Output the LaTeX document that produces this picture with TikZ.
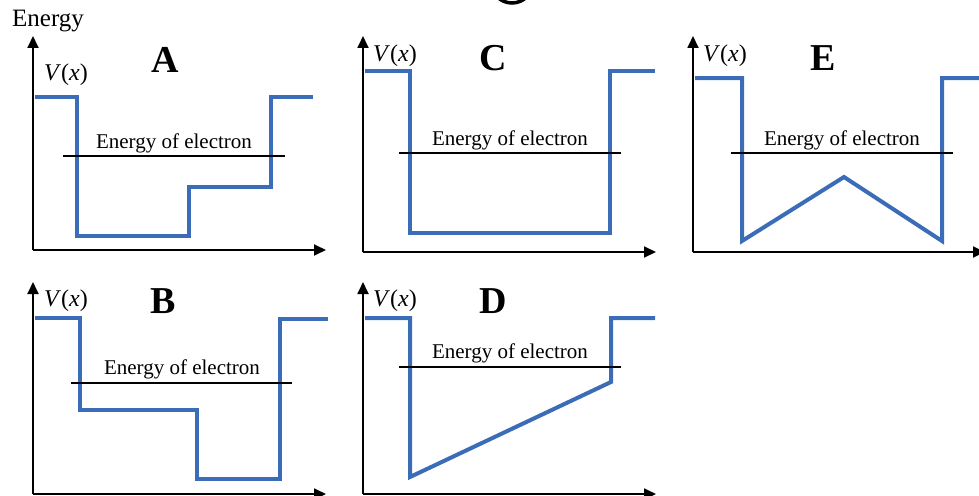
\documentclass[tikz,border=0pt]{standalone}
\usepackage{fontspec}
\setmainfont{Liberation Serif}
\usetikzlibrary{arrows.meta}
\definecolor{wellblue}{RGB}{59,108,183}
\newcommand{\Vx}{\textit{V}(\textit{x})}
\tikzset{
  axis/.style={line width=1.8pt,-{Triangle[length=12pt,width=11pt]}},
  pot/.style={draw=wellblue,line width=4pt,line join=miter,line cap=butt},
  elev/.style={line width=1.3pt},
  eltext/.style={font=\fontsize{21}{24}\selectfont,inner sep=0pt},
  vlab/.style={font=\fontsize{24}{28}\selectfont,inner sep=0pt},
  panel/.style={font=\fontsize{38}{42}\selectfont\bfseries,inner sep=0pt},
}
\begin{document}
\begin{tikzpicture}[x=1pt,y=-1pt]
\useasboundingbox (0,0) rectangle (979,495);
\begin{scope}
\clip (0,0) rectangle (979,495);
\draw[line width=3.5pt] (512,-18) circle (21);
% ---------- A ----------
\draw[axis] (33,250) -- (33,36);
\draw[axis] (33,250) -- (326,250);
\node[font=\fontsize{25}{28}\selectfont,inner sep=0pt] (energyA) at (48,21) {Energy};
\node[vlab] (vA) at (66,75) {\Vx};
\node[panel] (lA) at (165,60) {A};
\draw[pot] (35,97) -- (77,97) -- (77,236) -- (189,236) -- (189,187) -- (271,187) -- (271,97) -- (313,97);
\coordinate (eA1) at (63,156); \coordinate (eA2) at (285,156);
\draw[elev] (eA1) -- (eA2);
\node[eltext] (tA) at (174,143) {Energy of electron};
% ---------- C ----------
\draw[axis] (363,252) -- (363,36);
\draw[axis] (363,252) -- (656,252);
\node[vlab] (vC) at (395,56) {\Vx};
\node[panel] (lC) at (493,58) {C};
\draw[pot] (365,71) -- (410,71) -- (410,233) -- (610,233) -- (610,71) -- (655,71);
\coordinate (eC1) at (399,153); \coordinate (eC2) at (621,153);
\draw[elev] (eC1) -- (eC2);
\node[eltext] (tC) at (510,140) {Energy of electron};
% ---------- E ----------
\draw[axis] (693,252) -- (693,36);
\draw[axis] (693,252) -- (985,252);
\node[vlab] (vE) at (725,56) {\Vx};
\node[panel] (lE) at (823,58) {E};
\draw[pot] (695,78) -- (742,78) -- (742,241) -- (844,177) -- (942,241) -- (942,78) -- (985,78);
\coordinate (eE1) at (731,153); \coordinate (eE2) at (953,153);
\draw[elev] (eE1) -- (eE2);
\node[eltext] (tE) at (842,140) {Energy of electron};
% ---------- B ----------
\draw[axis] (33,494) -- (33,282);
\draw[axis] (33,494) -- (326,494);
\node[vlab] (vB) at (66,301) {\Vx};
\node[panel] (lB) at (163,301) {B};
\draw[pot] (35,318) -- (80,318) -- (80,410) -- (197,410) -- (197,479) -- (280,479) -- (280,319) -- (328,319);
\coordinate (eB1) at (71,383); \coordinate (eB2) at (292,383);
\draw[elev] (eB1) -- (eB2);
\node[eltext] (tB) at (182,369) {Energy of electron};
% ---------- D ----------
\draw[axis] (363,494) -- (363,282);
\draw[axis] (363,494) -- (656,494);
\node[vlab] (vD) at (395,301) {\Vx};
\node[panel] (lD) at (493,301) {D};
\draw[pot] (365,318) -- (410,318) -- (410,477) -- (611,382) -- (611,318) -- (655,318);
\coordinate (eD1) at (399,367); \coordinate (eD2) at (621,367);
\draw[elev] (eD1) -- (eD2);
\node[eltext] (tD) at (510,353) {Energy of electron};
\end{scope}
\end{tikzpicture}
\end{document}
